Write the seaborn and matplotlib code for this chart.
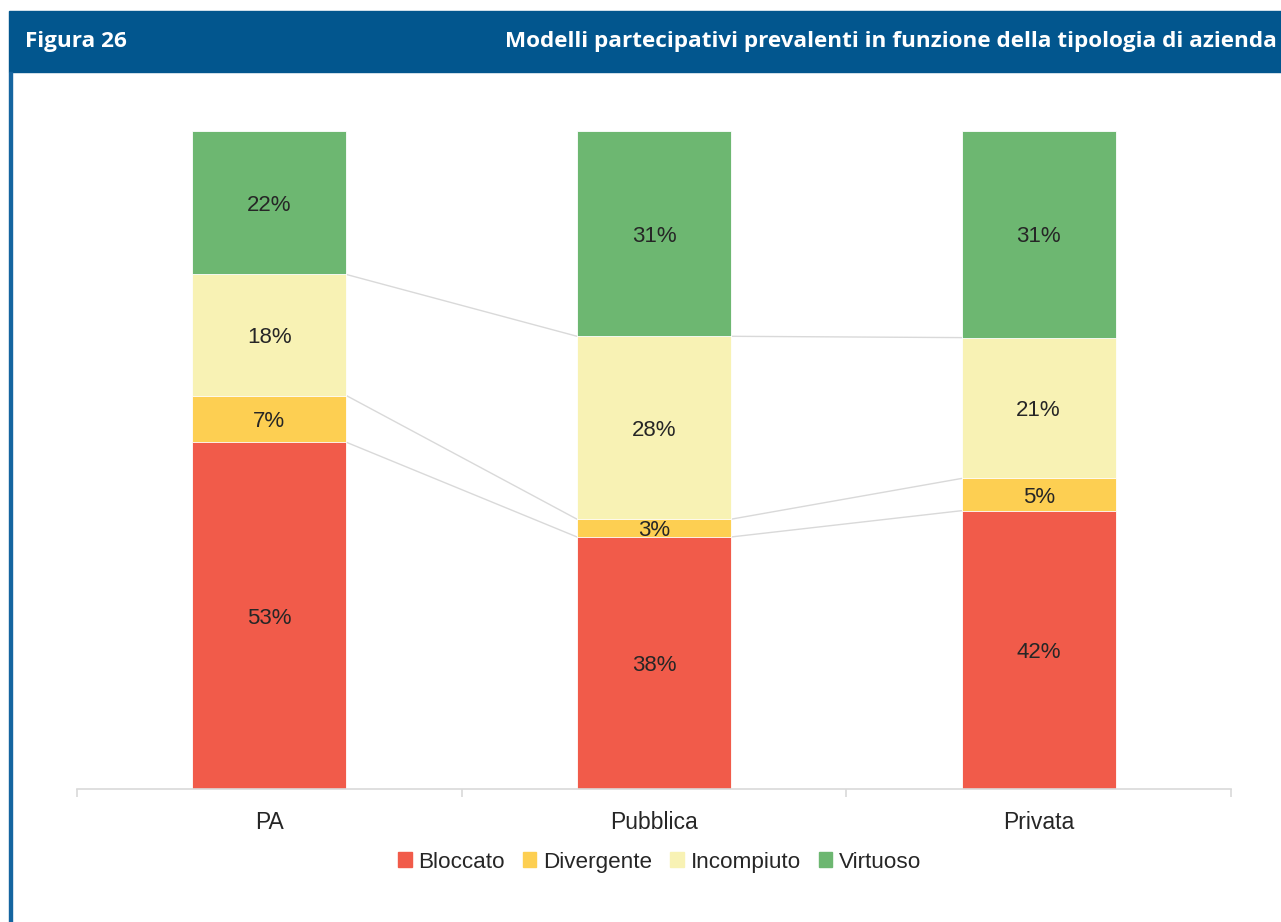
import pandas as pd
import matplotlib
matplotlib.use("Agg")
import matplotlib.pyplot as plt
import seaborn as sns
from matplotlib.patches import Rectangle

# --- dati (percentuali) ---
categorie = ["PA", "Pubblica", "Privata"]
serie = ["Bloccato", "Divergente", "Incompiuto", "Virtuoso"]
bloccato = [52.7, 38.3, 42.3]
divergente = [7.1, 2.7, 4.9]
incompiuto = [18.4, 27.8, 21.4]
virtuoso = [21.8, 31.2, 31.4]

colori = {"Bloccato": "#F15B4A", "Divergente": "#FDCF52",
          "Incompiuto": "#F8F2B4", "Virtuoso": "#6DB771"}

df = pd.DataFrame({"categoria": categorie, "Bloccato": bloccato,
                   "Divergente": divergente, "Incompiuto": incompiuto,
                   "Virtuoso": virtuoso})
# cumulati per impilare le barre
cum = df[serie].cumsum(axis=1)

sns.set_style("white")
plt.rcParams['font.family'] = ['Liberation Sans', 'DejaVu Sans']
plt.rcParams['axes.unicode_minus'] = False

fig = plt.figure(figsize=(12.81, 9.22), dpi=100)
ax = fig.add_axes([77 / 1281, 1 - 789 / 922, (1231 - 77) / 1281, (789 - 131) / 922])

# barre sovrapposte dal totale verso il basso
for s in reversed(serie):
    sns.barplot(x=df["categoria"], y=cum[s], color=colori[s], width=0.4,
                edgecolor="white", linewidth=0.6, saturation=1, ax=ax)

# linee di serie tra le barre
for s in serie[:-1]:
    for i in range(len(categorie) - 1):
        ax.plot([i + 0.2, i + 0.8], [cum[s][i], cum[s][i + 1]],
                color="#D9D9D9", lw=1, zorder=0.5)

# etichette dati
for s in serie:
    for i in range(len(categorie)):
        top = cum[s][i]
        val = df[s][i]
        ax.text(i, top - val / 2, f"{val:.0f}%", ha="center", va="center_baseline",
                fontsize=16, color="#262626")

ax.set_xlim(-0.5, 2.5)
ax.set_ylim(0, 100)
ax.set_xlabel("")
ax.set_ylabel("")
ax.set_yticks([])
for sp in ["top", "right", "left"]:
    ax.spines[sp].set_visible(False)
ax.spines["bottom"].set_color("#D9D9D9")
ax.spines["bottom"].set_linewidth(1.2)
ax.set_xticks([-0.5, 0.5, 1.5, 2.5], minor=True)
ax.tick_params(axis="x", which="both", bottom=True)
ax.tick_params(axis="x", which="minor", length=6, width=1.2, color="#D9D9D9", direction="out")
ax.tick_params(axis="x", which="major", length=0, pad=16, labelsize=16.5, labelcolor="#262626")

# legenda
handles = [Rectangle((0, 0), 1, 1, color=colori[s]) for s in serie]
fig.legend(handles, serie, loc="center", bbox_to_anchor=(0.515, 0.065), ncol=4,
           frameon=False, fontsize=16.2, handlelength=0.6, handleheight=0.6,
           handletextpad=0.3, columnspacing=0.8, labelcolor="#262626")

# testata blu
blu = "#02568E"
fig.patches.append(Rectangle((9 / 1281, 1 - 72 / 922), 1 - 9 / 1281, 61 / 922,
                             transform=fig.transFigure, color=blu, zorder=0))
fig.patches.append(Rectangle((9 / 1281, 0), 3 / 1281, 1 - 72 / 922,
                             transform=fig.transFigure, color="#1565A0", zorder=0))
fig.text(25 / 1281, 1 - 42 / 922, "Figura 26", ha="left", va="center",
         color="white", fontsize=16.2, fontweight="bold", family="Open Sans")
fig.text(1277 / 1281, 1 - 42 / 922,
         "Modelli partecipativi prevalenti in funzione della tipologia di azienda",
         ha="right", va="center", color="white", fontsize=16.2, fontweight="bold",
         family="Open Sans")

fig.savefig("out.png", dpi=100)
